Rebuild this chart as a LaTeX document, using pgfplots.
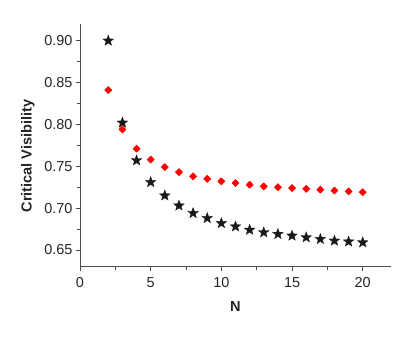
\documentclass[border=0pt]{standalone}
\usepackage{fontspec}
\setmainfont{Liberation Sans}
\usepackage{pgfplots}
\pgfplotsset{compat=1.18}

% filled five-pointed star
\pgfdeclareplotmark{fivestar}{%
  \pgfpathmoveto{\pgfqpointpolar{90}{\pgfplotmarksize}}%
  \pgfpathlineto{\pgfqpointpolar{126}{0.42\pgfplotmarksize}}%
  \pgfpathlineto{\pgfqpointpolar{162}{\pgfplotmarksize}}%
  \pgfpathlineto{\pgfqpointpolar{198}{0.42\pgfplotmarksize}}%
  \pgfpathlineto{\pgfqpointpolar{234}{\pgfplotmarksize}}%
  \pgfpathlineto{\pgfqpointpolar{270}{0.42\pgfplotmarksize}}%
  \pgfpathlineto{\pgfqpointpolar{306}{\pgfplotmarksize}}%
  \pgfpathlineto{\pgfqpointpolar{342}{0.42\pgfplotmarksize}}%
  \pgfpathlineto{\pgfqpointpolar{18}{\pgfplotmarksize}}%
  \pgfpathlineto{\pgfqpointpolar{54}{0.42\pgfplotmarksize}}%
  \pgfpathclose
  \pgfusepathqfillstroke
}

\begin{document}
\begin{tikzpicture}[x=1bp,y=1bp]
\path[use as bounding box] (-80bp,-77.3bp) rectangle (335bp,266.7bp);
\begin{axis}[
  at={(0,0)}, anchor=south west,
  scale only axis,
  width=311bp, height=242.7bp,
  xmin=0, xmax=22,
  ymin=0.63, ymax=0.92,
  axis x line*=bottom,
  axis y line*=left,
  axis line style={black!70, line width=0.8pt, -},
  xtick={0,5,10,15,20},
  minor xtick={2.5,7.5,12.5,17.5},
  ytick={0.65,0.70,0.75,0.80,0.85,0.90},
  minor ytick={0.675,0.725,0.775,0.825,0.875},
  tick align=outside,
  major tick length=4bp,
  minor tick length=3bp,
  tick style={black!70, line width=0.8pt},
  yticklabel style={/pgf/number format/.cd, fixed, fixed zerofill, precision=2},
  xticklabel style={yshift=-3bp},
  /pgf/number format/assume math mode=true,
  tick label style={font=\fontsize{14.5}{16}\selectfont, text=black!85},
  xlabel={\textbf{N}},
  ylabel={\textbf{Critical Visibility}},
  label style={font=\fontsize{14.6}{17}\selectfont, text=black!85},
  xlabel style={yshift=-7bp},
  ylabel style={at={(ticklabel cs:0.456)}, yshift=3bp},
  clip=false,
]
% black stars
\addplot[only marks, mark=fivestar, mark size=5.6bp, mark options={draw=black!90, fill=black!90, line width=0.3pt, line join=miter}] coordinates {
  (2,0.900) (3,0.802) (4,0.757) (5,0.731) (6,0.715) (7,0.703) (8,0.694)
  (9,0.688) (10,0.682) (11,0.678) (12,0.674) (13,0.671) (14,0.669)
  (15,0.667) (16,0.665) (17,0.663) (18,0.661) (19,0.660) (20,0.659)
};
% red diamonds
\addplot[only marks, mark=square*, mark size=2.5bp, mark options={draw=red, fill=red, line width=0.6pt, line join=round, rotate=45}] coordinates {
  (2,0.841) (3,0.794) (4,0.771) (5,0.758) (6,0.749) (7,0.743) (8,0.738)
  (9,0.735) (10,0.732) (11,0.730) (12,0.728) (13,0.726) (14,0.725)
  (15,0.724) (16,0.723) (17,0.722) (18,0.721) (19,0.720) (20,0.719)
};
\end{axis}
\end{tikzpicture}
\end{document}
